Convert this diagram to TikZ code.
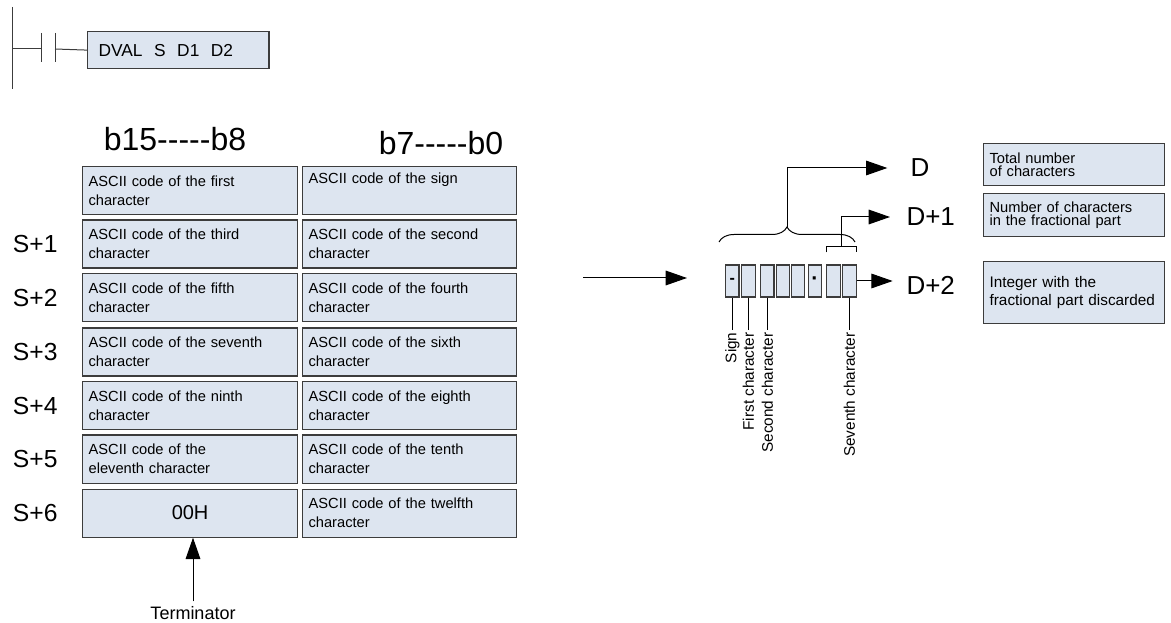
\documentclass[tikz,border=0pt]{standalone}
\usepackage{fontspec}
\setmainfont{Liberation Sans}
\usetikzlibrary{arrows.meta,positioning,calc,decorations.pathreplacing}

\definecolor{cellfill}{HTML}{DDE5F0}
\definecolor{cellline}{HTML}{3C3C3C}

\tikzset{
  cell/.style={draw=cellline, fill=cellfill, line width=0.9pt, anchor=north west,
               inner xsep=4.5pt, align=left, font=\fontsize{11}{14.3}\selectfont},
  lcell/.style={cell, text width=152.25pt, minimum height=36pt},
  rcell/.style={cell, text width=151.5pt, minimum height=36pt},
  digit/.style={draw=cellline, fill=cellfill, line width=0.9pt, inner sep=0pt,
                minimum width=10pt, minimum height=24pt, font=\bfseries\fontsize{12}{12}\selectfont},
  vlab/.style={rotate=90, anchor=east, inner sep=1.5pt, font=\fontsize{11.5}{13}\selectfont},
  arr/.style={-{Triangle[length=16pt, width=11pt]}, line width=0.75pt},
}

\begin{document}
\begin{tikzpicture}[x=0.75pt, y=-0.75pt, line width=0.75pt]
\useasboundingbox (0,0) rectangle (1171,623);

% ladder rung
\coordinate (railtop) at (12,7);
\coordinate (railbot) at (12,89);
\coordinate (rung) at (12,49);
\coordinate (k1) at (41,49);
\coordinate (k2) at (55,49);
\draw[cellline] (railtop) -- (railbot);
\draw[cellline] (rung) -- (k1);
\draw[cellline] (41,33) -- (41,62);
\draw[cellline] (55,33) -- (55,62);
\node[cell, text width=119.5pt, inner xsep=8.25pt, minimum height=27.75pt,
      font=\fontsize{13}{15}\selectfont] (instr) at (87,31) {DVAL\ \ S\ \ D1\ \ D2};
\draw[cellline] (k2) -- (instr.west);

% bit headers
\begin{scope}[every node/.style={font=\fontsize{24}{26}\selectfont}]
    \node (hihead) at (175,139) {b15-{}-{}-{}-{}-b8};
    \node (lohead) at (441,143) {b7-{}-{}-{}-{}-b0};
\end{scope}

% source words
\node[lcell] (l0) at (82,166) {ASCII code of the first\\character};
\node[lcell] (l1) at (82,219.5) {ASCII code of the third\\character};
\node[lcell] (l2) at (82,273) {ASCII code of the fifth\\character};
\node[lcell] (l3) at (82,327.5) {ASCII code of the seventh\\character};
\node[lcell] (l4) at (82,381) {ASCII code of the ninth\\character};
\node[lcell] (l5) at (82,434.5) {ASCII code of the\\eleventh character};
\node[lcell, align=center, font=\fontsize{15}{17}\selectfont] (l6) at (82,488.5) {00H};

\node[rcell] (r0) at (302,166) {ASCII code of the sign\\\strut};
\node[rcell] (r1) at (302,219.5) {ASCII code of the second\\character};
\node[rcell] (r2) at (302,273) {ASCII code of the fourth\\character};
\node[rcell] (r3) at (302,327.5) {ASCII code of the sixth\\character};
\node[rcell] (r4) at (302,381) {ASCII code of the eighth\\character};
\node[rcell] (r5) at (302,434.5) {ASCII code of the tenth\\character};
\node[rcell] (r6) at (302,488.5) {ASCII code of the twelfth\\character};

\begin{scope}[every node/.style={font=\fontsize{18.5}{20}\selectfont, inner sep=0pt}]
    \node[left=18pt of l1] (s1) {S+1};
    \node[left=18pt of l2] (s2) {S+2};
    \node[left=18pt of l3] (s3) {S+3};
    \node[left=18pt of l4] (s4) {S+4};
    \node[left=18pt of l5] (s5) {S+5};
    \node[left=18pt of l6] (s6) {S+6};
\end{scope}

\node[font=\fontsize{13.5}{16}\selectfont] (term) at (193,613) {Terminator};
\draw[arr] (term.north) -- (term.north |- l6.south);

% conversion
\coordinate (src) at (583,278);
\coordinate (dst) at (687,278);
\draw[arr] (src) -- (dst);

\node[digit] (b1) at (732.3,281) {-};
\node[digit] (b2) at (748.5,281) {};
\node[digit] (b3) at (767.3,281) {};
\node[digit] (b4) at (783,281) {};
\node[digit] (b5) at (798,281) {};
\node[digit, font=\bfseries\fontsize{16}{16}\selectfont] (b6) at (815,281) {·};
\node[digit] (b7) at (833.5,281) {};
\node[digit] (b8) at (849.5,281) {};

\node[vlab] (sgn) at (732.3,330) {Sign};
\node[vlab] (ch1) at (748.5,330) {First character};
\node[vlab] (ch2) at (767.3,330) {Second character};
\node[vlab] (ch7) at (849.5,330) {Seventh character};
\draw (b1) -- (sgn);
\draw (b2) -- (ch1);
\draw (b3) -- (ch2);
\draw (b8) -- (ch7);

% results
\begin{scope}[every node/.style={font=\fontsize{19.5}{21}\selectfont, inner sep=0pt, anchor=west}]
    \node (d0) at (910,168) {D};
    \node (d1) at (906,217) {D+1};
    \node (d2) at (906,285) {D+2};
\end{scope}

\coordinate (brl) at (719,242);
\coordinate (brr) at (855,242);
\coordinate (cusp) at (787,227);
\draw[decorate, decoration={brace, amplitude=11.25pt, aspect=0.5}] (brl) -- (brr);
\draw[arr, shorten >=17pt] (cusp) |- (d0.west);

\coordinate (fl) at ([yshift=9pt]b7.north west);
\coordinate (fr) at ([yshift=9pt]b8.north east);
\coordinate (frac) at ($(fl)!0.5!(fr)+(0,-6)$);
\draw (fl) -- ++(0,-6) -| (fr);
\draw[arr, shorten >=12pt] (frac) |- (d1.west);
\draw[arr, shorten >=10pt] (b8.east) -- (b8.east -| d2.west);

\node[cell, text width=126.75pt, minimum height=31.5pt,
      font=\fontsize{11}{9.5}\selectfont] (total) at (983,143) {Total number\\of characters};
\node[cell, text width=126.75pt, minimum height=32.25pt,
      font=\fontsize{11}{9.5}\selectfont] (fracn) at (983,193) {Number of characters\\in the fractional part};
\node[cell, text width=126.75pt, minimum height=46.5pt,
      font=\fontsize{11.5}{13.5}\selectfont] (intg) at (983,261) {Integer with the\\fractional part discarded};
\end{tikzpicture}
\end{document}
